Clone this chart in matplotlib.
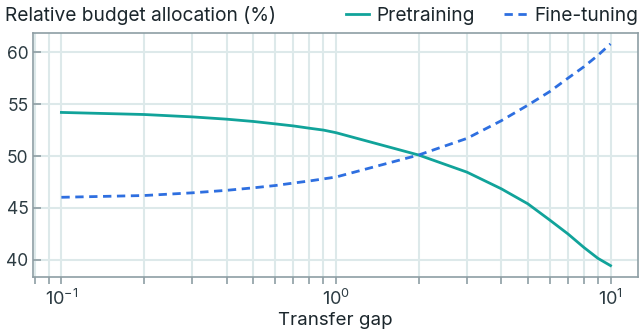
import numpy as np
import matplotlib.pyplot as plt
from matplotlib.ticker import LogLocator, NullFormatter

plt.rcParams['font.family'] = ['Inter', 'DejaVu Sans']

# transfer gap values and the budget share given to each stage
gap = [0.1, 0.2, 0.3, 0.4, 0.5, 0.6, 0.7, 0.8, 0.9, 1.0,
       2.0, 3.0, 4.0, 5.0, 6.0, 7.0, 8.0, 9.0, 10.0]
pretraining = [54.2, 54.0, 53.77, 53.55, 53.33, 53.1, 52.9, 52.68, 52.5, 52.25,
               50.1, 48.45, 46.85, 45.4, 43.85, 42.5, 41.2, 40.15, 39.45]
finetuning = [46.03, 46.2, 46.46, 46.7, 46.94, 47.16, 47.4, 47.6, 47.8, 47.98,
              50.1, 51.7, 53.4, 54.9, 56.2, 57.5, 58.6, 59.7, 60.8]

teal = "#11a39a"
blue = "#2e6fe0"
grid_col = "#dde9ea"
spine_col = "#8e9ea4"
text_col = "#2c3b42"

fig = plt.figure(figsize=(6.4, 3.33), dpi=100)
ax = fig.add_axes([0.052, 0.168, 0.945, 0.733])

ax.plot(gap, pretraining, color=teal, lw=2, label="Pretraining")
ax.plot(gap, finetuning, color=blue, lw=2, ls=(0, (3, 2)), label="Fine-tuning")

ax.set_xscale("log")
ax.set_xlim(0.079, 12.6)
ax.set_ylim(38.35, 61.85)
ax.set_yticks([40, 45, 50, 55, 60])
ax.xaxis.set_minor_locator(LogLocator(base=10, subs=np.arange(2, 10)))
ax.xaxis.set_minor_formatter(NullFormatter())

ax.grid(True, which="both", axis="x", color=grid_col, lw=1.5)
ax.grid(True, which="major", axis="y", color=grid_col, lw=1.5)
ax.set_axisbelow(True)

for s in ax.spines.values():
    s.set_color(spine_col)
    s.set_linewidth(1.2)
ax.tick_params(which="both", colors=spine_col, width=1.2, length=5,
               labelcolor=text_col, labelsize=13)
# y ticks point into the plot, labels sit close to the spine
ax.tick_params(axis="y", direction="in", length=6, pad=3.5, labelsize=12.5)

ax.set_xlabel("Transfer gap", fontsize=13.5, color="#1b262c", labelpad=2)
fig.text(0.008, 0.952, "Relative budget allocation (%)", fontsize=13.8,
         color="#1b262c", va="center", ha="left")

fig.legend(loc="center right", bbox_to_anchor=(1.0, 0.952), ncol=2,
           frameon=False, fontsize=13.8, handlelength=1.2, handletextpad=0.4,
           columnspacing=1.5, borderaxespad=0, borderpad=0.1,
           labelcolor="#1b262c")

fig.savefig("out.png", dpi=100)
